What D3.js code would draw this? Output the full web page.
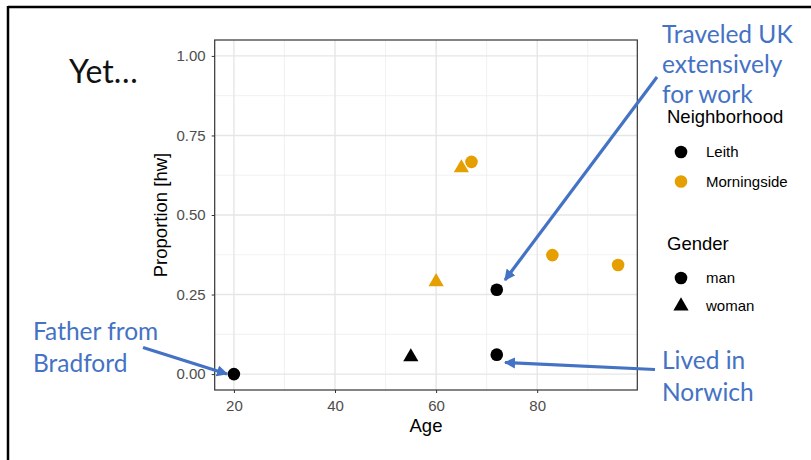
<!DOCTYPE html>
<html><head><meta charset="utf-8">
<script src="https://cdn.jsdelivr.net/npm/d3@7/dist/d3.min.js"></script>
<style>body{margin:0;background:#fff}svg{display:block}</style>
</head><body>
<svg id="chart" width="811" height="460"></svg>
<script>
const ages = [20, 55, 72, 72, 60, 65, 67, 83, 96];
const proportions = [0, 0.054, 0.061, 0.265, 0.29, 0.648, 0.667, 0.374, 0.343];
const neighborhoods = ["Leith","Leith","Leith","Leith","Morningside","Morningside","Morningside","Morningside","Morningside"];
const genders = ["man","woman","man","man","woman","woman","man","man","man"];
const xTicks = [20, 40, 60, 80];
const xMinor = [30, 50, 70, 90];
const yTicks = [0, 0.25, 0.5, 0.75, 1];
const yMinor = [0.125, 0.375, 0.625, 0.875];
const neighborhoodLevels = ["Leith", "Morningside"];
const genderLevels = ["man", "woman"];
const colors = ["#000000", "#E69F00"];

const svg = d3.select("#chart");
const blue = "#4472C4";
const font = "'Liberation Sans', Arial, sans-serif";
const calibri = "Lato, 'Open Sans', sans-serif";

// slide frame
svg.append("line").attr("x1", 8).attr("y1", 7).attr("x2", 811).attr("y2", 7).attr("stroke", "#000").attr("stroke-width", 2.5);
svg.append("line").attr("x1", 8).attr("y1", 6).attr("x2", 8).attr("y2", 460).attr("stroke", "#000").attr("stroke-width", 2.5);

const panel = {left: 214.7, right: 637.3, top: 40, bottom: 390};
const x = d3.scaleLinear().domain([16.2, 99.8]).range([panel.left, panel.right]);
const y = d3.scaleLinear().domain([-0.05, 1.05]).range([panel.bottom, panel.top]);
const color = d3.scaleOrdinal().domain(neighborhoodLevels).range(colors);
const shape = d3.scaleOrdinal().domain(genderLevels).range([d3.symbolCircle, d3.symbolTriangle]);
const sizeOf = g => g === "man" ? 125 : 100;

const g = svg.append("g");
// grid
g.selectAll(".vminor").data(xMinor).join("line")
  .attr("x1", d => x(d)).attr("x2", d => x(d)).attr("y1", panel.top).attr("y2", panel.bottom)
  .attr("stroke", "#EBEBEB").attr("stroke-width", 0.7);
g.selectAll(".hminor").data(yMinor).join("line")
  .attr("y1", d => y(d)).attr("y2", d => y(d)).attr("x1", panel.left).attr("x2", panel.right)
  .attr("stroke", "#EBEBEB").attr("stroke-width", 0.7);
g.selectAll(".vmajor").data(xTicks).join("line")
  .attr("x1", d => x(d)).attr("x2", d => x(d)).attr("y1", panel.top).attr("y2", panel.bottom)
  .attr("stroke", "#E6E6E6").attr("stroke-width", 1.4);
g.selectAll(".hmajor").data(yTicks).join("line")
  .attr("y1", d => y(d)).attr("y2", d => y(d)).attr("x1", panel.left).attr("x2", panel.right)
  .attr("stroke", "#E6E6E6").attr("stroke-width", 1.4);

// axes
const xAxis = svg.append("g").attr("transform", `translate(0,${panel.bottom})`)
  .call(d3.axisBottom(x).tickValues(xTicks).tickSize(3).tickPadding(7).tickFormat(d3.format("d")));
const yAxis = svg.append("g").attr("transform", `translate(${panel.left},0)`)
  .call(d3.axisLeft(y).tickValues(yTicks).tickSize(3).tickPadding(6).tickFormat(d3.format(".2f")));
[xAxis, yAxis].forEach(a => {
  a.select(".domain").remove();
  a.selectAll(".tick line").attr("stroke", "#333").attr("stroke-width", 1);
  a.selectAll(".tick text").attr("fill", "#4D4D4D").style("font-family", font).style("font-size", "15px");
});

// panel border
svg.append("rect").attr("x", panel.left).attr("y", panel.top)
  .attr("width", panel.right - panel.left).attr("height", panel.bottom - panel.top)
  .attr("fill", "none").attr("stroke", "#333").attr("stroke-width", 1.2);

// axis titles
svg.append("text").attr("x", (panel.left + panel.right) / 2).attr("y", 432)
  .attr("text-anchor", "middle").style("font-family", font).style("font-size", "18.5px").text("Age");
svg.append("text").attr("transform", `translate(167,${(panel.top + panel.bottom) / 2}) rotate(-90)`)
  .attr("text-anchor", "middle").style("font-family", font).style("font-size", "18.5px").text("Proportion [hw]");

// points
const pts = ages.map((a, i) => ({age: a, p: proportions[i], n: neighborhoods[i], g: genders[i]}));
svg.selectAll(".pt").data(pts).join("path")
  .attr("transform", d => `translate(${x(d.age)},${y(d.p)})`)
  .attr("d", d => d3.symbol().type(shape(d.g)).size(sizeOf(d.g))())
  .attr("fill", d => color(d.n));

// legends
const leg = svg.append("g").style("font-family", font);
leg.append("text").attr("x", 667).attr("y", 123).style("font-size", "18.5px").text("Neighborhood");
neighborhoodLevels.forEach((n, i) => {
  const cy = 152 + i * 29.5;
  leg.append("path").attr("transform", `translate(681,${cy})`)
    .attr("d", d3.symbol().type(d3.symbolCircle).size(125)()).attr("fill", color(n));
  leg.append("text").attr("x", 706).attr("y", cy + 5.3).style("font-size", "15px").text(n);
});
leg.append("text").attr("x", 667).attr("y", 250).style("font-size", "18.5px").text("Gender");
genderLevels.forEach((gg, i) => {
  const cy = 278 + i * 28;
  leg.append("path").attr("transform", `translate(681,${cy})`)
    .attr("d", d3.symbol().type(shape(gg)).size(sizeOf(gg))()).attr("fill", "#000");
  leg.append("text").attr("x", 706).attr("y", cy + 5.3).style("font-size", "15px").text(gg);
});

// slide text
svg.append("text").attr("x", 69).attr("y", 83).style("font-family", calibri).style("font-size", "32px")
  .attr("fill", "#111").text("Yet…");

function multiline(xp, yp, lines, lh) {
  const t = svg.append("text").attr("x", xp).attr("y", yp).style("font-family", calibri)
    .style("font-size", "24.5px").attr("fill", blue);
  lines.forEach((l, i) => t.append("tspan").attr("x", xp).attr("dy", i ? lh : 0).text(l));
}
multiline(662, 43, ["Traveled UK", "extensively", "for work"], 30);
multiline(33, 340, ["Father from", "Bradford"], 31.5);
multiline(662, 369, ["Lived in", "Norwich"], 31.5);

// arrows
const defs = svg.append("defs");
defs.append("marker").attr("id", "ah").attr("viewBox", "0 0 10 10").attr("refX", 9).attr("refY", 5)
  .attr("markerWidth", 3.5).attr("markerHeight", 3.5).attr("orient", "auto").attr("markerUnits", "strokeWidth")
  .append("path").attr("d", "M0,0 L10,5 L0,10 z").attr("fill", blue);
function arrow(x1, y1, x2, y2) {
  svg.append("line").attr("x1", x1).attr("y1", y1).attr("x2", x2).attr("y2", y2)
    .attr("stroke", blue).attr("stroke-width", 3.2).attr("marker-end", "url(#ah)");
}
arrow(657, 77, 505, 280);
arrow(143, 347.5, 227, 374);
arrow(655, 369.5, 505, 362.5);
</script>
</body></html>
